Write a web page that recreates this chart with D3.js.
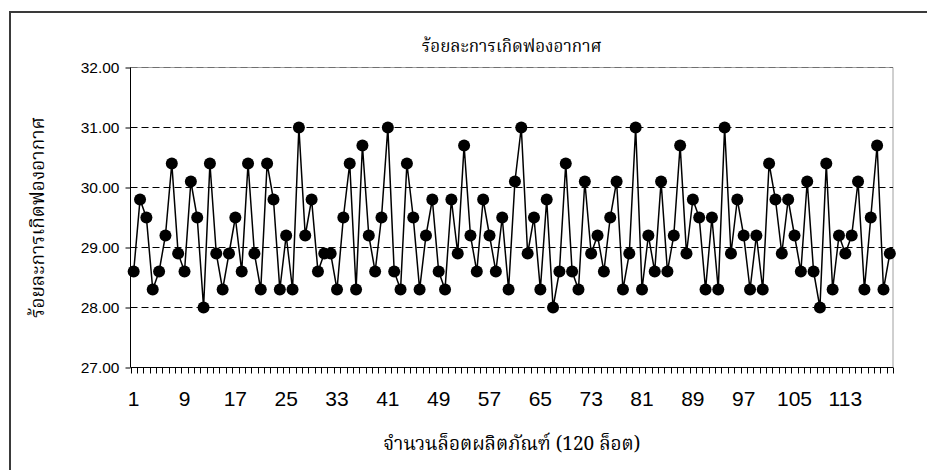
<!DOCTYPE html>
<html lang="th">
    <head>
        <meta charset="utf-8">
        <title>ร้อยละการเกิดฟองอากาศ</title>
        <script type="text/javascript" src="https://cdn.jsdelivr.net/npm/d3@7/dist/d3.min.js"></script>
        <style type="text/css">
            body { margin: 0; background: #fff; }
            .thai { font-family: "Angsana New", "Norasi", "Tlwg Typo", "Noto Serif Thai", "Noto Sans Thai", serif; fill: #000; }
            .num { font-family: Arial, "Liberation Sans", sans-serif; fill: #000; }
        </style>
    </head>
    <body>
        <div class="chart"></div>
        <script type="text/javascript">
            // ข้อมูล: ร้อยละการเกิดฟองอากาศของแต่ละล็อต
            var lots = d3.range(1, 121);
            var airBubble = [
                28.6, 29.8, 29.5, 28.3, 28.6, 29.2, 30.4, 28.9, 28.6, 30.1,
                29.5, 28.0, 30.4, 28.9, 28.3, 28.9, 29.5, 28.6, 30.4, 28.9,
                28.3, 30.4, 29.8, 28.3, 29.2, 28.3, 31.0, 29.2, 29.8, 28.6,
                28.9, 28.9, 28.3, 29.5, 30.4, 28.3, 30.7, 29.2, 28.6, 29.5,
                31.0, 28.6, 28.3, 30.4, 29.5, 28.3, 29.2, 29.8, 28.6, 28.3,
                29.8, 28.9, 30.7, 29.2, 28.6, 29.8, 29.2, 28.6, 29.5, 28.3,
                30.1, 31.0, 28.9, 29.5, 28.3, 29.8, 28.0, 28.6, 30.4, 28.6,
                28.3, 30.1, 28.9, 29.2, 28.6, 29.5, 30.1, 28.3, 28.9, 31.0,
                28.3, 29.2, 28.6, 30.1, 28.6, 29.2, 30.7, 28.9, 29.8, 29.5,
                28.3, 29.5, 28.3, 31.0, 28.9, 29.8, 29.2, 28.3, 29.2, 28.3,
                30.4, 29.8, 28.9, 29.8, 29.2, 28.6, 30.1, 28.6, 28.0, 30.4,
                28.3, 29.2, 28.9, 29.2, 30.1, 28.3, 29.5, 30.7, 28.3, 28.9
            ];
            var xTickLabels = [1, 9, 17, 25, 33, 41, 49, 57, 65, 73, 81, 89, 97, 105, 113];
            var yTicks = [27, 28, 29, 30, 31, 32];
            var gridLines = [28, 29, 30, 31, 32];

            var titleText = "ร้อยละการเกิดฟองอากาศ";
            var xTitleText = "จำนวนล็อตผลิตภัณฑ์ (120 ล็อต)";
            var yTitleText = "ร้อยละการเกิดฟองอากาศ";

            // ขนาด SVG และพื้นที่กราฟ
            var w = 927;
            var h = 470;
            var plotL = 130.5, plotR = 893, plotT = 67.5, plotB = 367.5;

            var svg = d3.select("div.chart")
                        .append("svg")
                        .attr("width", w)
                        .attr("height", h)
                        .style("display", "block");

            // กรอบนอก
            svg.append("rect")
               .attr("x", 10)
               .attr("y", 12)
               .attr("width", w)
               .attr("height", h)
               .attr("fill", "none")
               .attr("stroke", "#3a3a3a")
               .attr("stroke-width", 2);

            // สเกล
            var xScale = d3.scaleBand()
                           .domain(lots)
                           .range([plotL, plotR])
                           .padding(0);
            var yScale = d3.scaleLinear()
                           .domain([27, 32])
                           .range([plotB, plotT]);

            // ขอบพื้นที่กราฟ (บน/ขวา สีเทา)
            svg.append("path")
               .attr("d", "M" + plotL + "," + plotT + "H" + plotR + "V" + plotB)
               .attr("fill", "none")
               .attr("stroke", "#a0a0a0")
               .attr("stroke-width", 1);

            // เส้นกริดแบบประ
            svg.selectAll("line.grid")
               .data(gridLines)
               .enter()
               .append("line")
               .attr("class", "grid")
               .attr("x1", plotL)
               .attr("x2", plotR)
               .attr("y1", function(d){return Math.floor(yScale(d)) + 0.5;})
               .attr("y2", function(d){return Math.floor(yScale(d)) + 0.5;})
               .attr("stroke", function(d){return d === 32 ? "#707070" : "#000";})
               .attr("stroke-width", 1)
               .attr("stroke-dasharray", "7,4");

            // แกน y
            var yAxis = d3.axisLeft(yScale)
                          .tickValues(yTicks)
                          .tickSize(5)
                          .tickPadding(6)
                          .tickFormat(d3.format(".2f"));
            var gy = svg.append("g")
                        .attr("transform", "translate(" + plotL + ",0)")
                        .call(yAxis);
            gy.select(".domain").attr("stroke", "#000").attr("d", "M0," + plotT + "V" + plotB);
            gy.selectAll("line").attr("stroke", "#000");
            gy.selectAll("text").attr("class", "num").style("font-size", "15.5px").attr("font-family", null);

            // แกน x: ขีดย่อยที่ขอบแต่ละหมวด
            var tickPos = lots.map(function(d){return xScale(d);}).concat([plotR]);
            svg.append("line")
               .attr("x1", plotL)
               .attr("x2", plotR)
               .attr("y1", plotB)
               .attr("y2", plotB)
               .attr("stroke", "#000");
            svg.selectAll("line.xtick")
               .data(tickPos)
               .enter()
               .append("line")
               .attr("class", "xtick")
               .attr("x1", function(d){return Math.round(d) + 0.5;})
               .attr("x2", function(d){return Math.round(d) + 0.5;})
               .attr("y1", plotB)
               .attr("y2", plotB + 6)
               .attr("stroke", "#000");

            var xAxis = d3.axisBottom(xScale)
                          .tickValues(xTickLabels)
                          .tickSize(0)
                          .tickPadding(24);
            var gx = svg.append("g")
                        .attr("transform", "translate(0," + plotB + ")")
                        .call(xAxis);
            gx.select(".domain").remove();
            gx.selectAll("text").attr("class", "num").style("font-size", "21px").attr("font-family", null);

            // เส้นและจุดข้อมูล
            var line = d3.line()
                         .x(function(d, i){return xScale(lots[i]) + xScale.bandwidth() / 2;})
                         .y(function(d){return yScale(d);});
            svg.append("path")
               .datum(airBubble)
               .attr("d", line)
               .attr("fill", "none")
               .attr("stroke", "#000")
               .attr("stroke-width", 1.5);
            svg.selectAll("circle")
               .data(airBubble)
               .enter()
               .append("circle")
               .attr("cx", function(d, i){return xScale(lots[i]) + xScale.bandwidth() / 2;})
               .attr("cy", function(d){return yScale(d);})
               .attr("r", 6)
               .attr("fill", "#000");

            // ชื่อกราฟและชื่อแกน
            svg.append("text")
               .attr("class", "thai")
               .attr("x", (plotL + plotR) / 2)
               .attr("y", 52)
               .attr("text-anchor", "middle")
               .style("font-size", "17px")
               .text(titleText);
            svg.append("text")
               .attr("class", "thai")
               .attr("x", (plotL + plotR) / 2)
               .attr("y", 450)
               .attr("text-anchor", "middle")
               .style("font-size", "19px")
               .text(xTitleText);
            svg.append("text")
               .attr("class", "thai")
               .attr("transform", "translate(44," + ((plotT + plotB) / 2) + ") rotate(-90)")
               .attr("text-anchor", "middle")
               .style("font-size", "19px")
               .text(yTitleText);
        </script>
    </body>
</html>
